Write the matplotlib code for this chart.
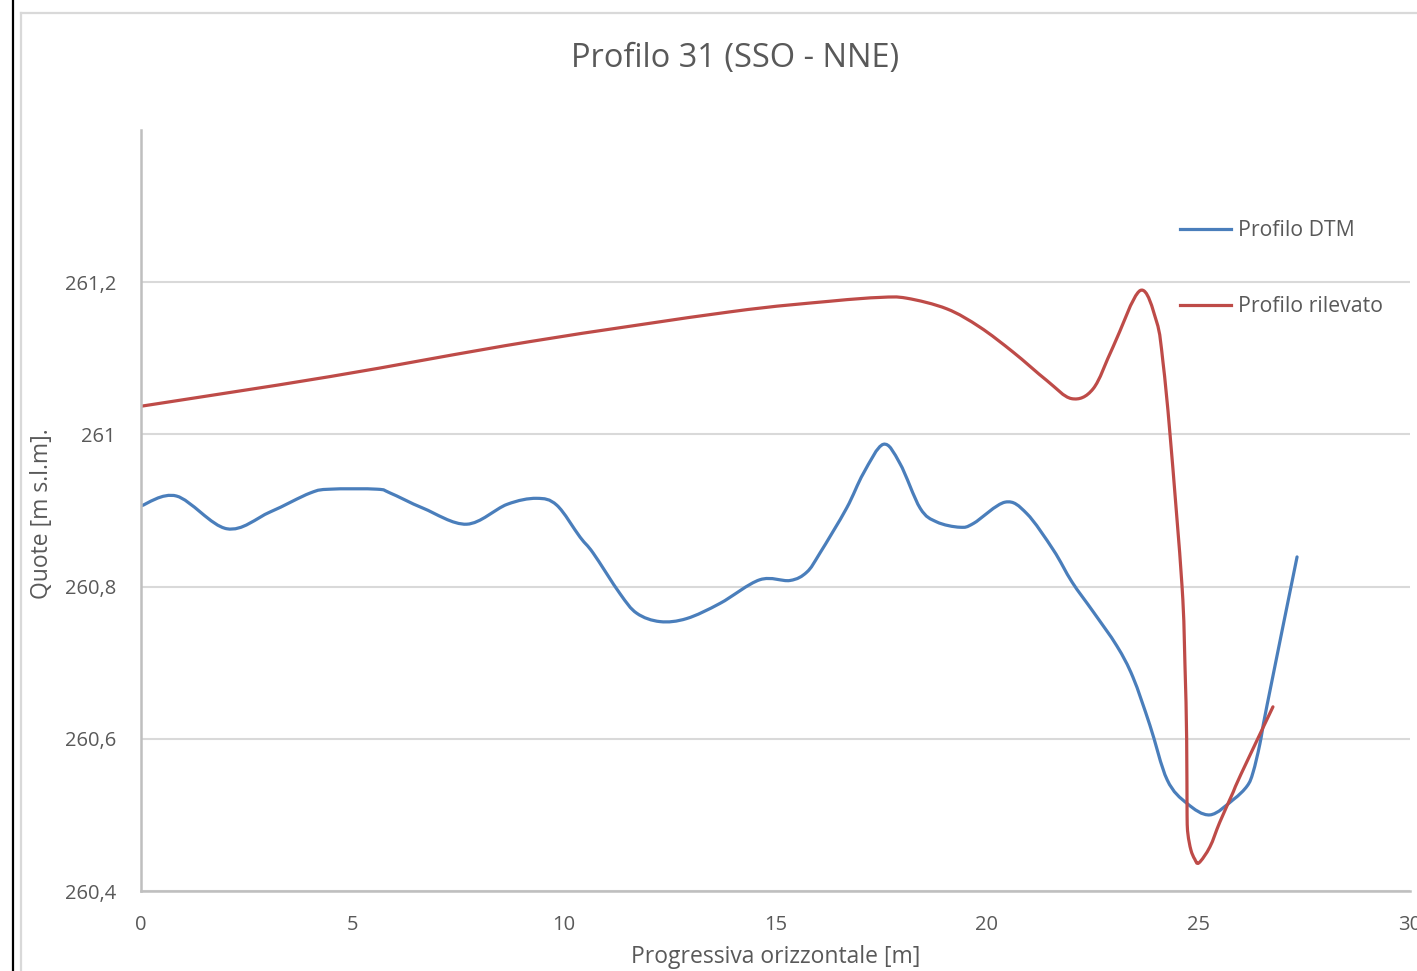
import matplotlib
matplotlib.use("Agg")
import numpy as np
import matplotlib.pyplot as plt
from matplotlib.lines import Line2D
from matplotlib.path import Path
from matplotlib.patches import PathPatch

plt.rcParams['font.family'] = ['Open Sans', 'DejaVu Sans']

# Profilo DTM
dtm_x = [0.0, 0.84, 2.03, 3.05, 4.0, 4.47, 5.58, 5.89, 6.67, 7.70, 8.65, 9.35,
         9.83, 10.38, 10.69, 11.32, 11.72, 12.27, 12.90, 13.69, 14.63, 15.34,
         15.74, 16.05, 16.68, 17.08, 17.55, 17.94, 18.42, 18.81, 19.36, 19.68,
         20.43, 20.94, 21.57, 22.01, 22.51, 23.07, 23.45, 23.85, 24.26, 24.73,
         25.27, 25.82, 26.15, 26.29, 26.45, 26.62, 27.33]
dtm_y = [260.906, 260.919, 260.876, 260.898, 260.923, 260.928, 260.928, 260.923,
         260.903, 260.882, 260.908, 260.916, 260.907, 260.865, 260.844, 260.791,
         260.765, 260.754, 260.758, 260.778, 260.809, 260.808, 260.819, 260.844,
         260.903, 260.949, 260.987, 260.962, 260.903, 260.885, 260.878, 260.883,
         260.911, 260.896, 260.848, 260.806, 260.767, 260.722, 260.681, 260.618,
         260.546, 260.515, 260.500, 260.520, 260.538, 260.556, 260.593, 260.644,
         260.839]

# Profilo rilevato
ril_x = [0.0, 4.47, 9.2, 13.92, 16.29, 17.47, 18.10, 19.05, 19.83, 20.62, 21.41,
         22.0, 22.51, 22.98, 23.62, 24.01, 24.16, 24.33, 24.61, 24.68, 24.72,
         24.73, 24.75, 24.82, 24.91, 25.01, 25.27, 25.5, 25.82, 26.0, 26.76]
ril_y = [261.037, 261.076, 261.122, 261.161, 261.175, 261.180, 261.179, 261.165,
         261.141, 261.108, 261.071, 261.047, 261.060, 261.115, 261.189, 261.148,
         261.095, 260.998, 260.801, 260.697, 260.600, 260.50, 260.475, 260.454,
         260.442, 260.437, 260.458, 260.490, 260.530, 260.553, 260.642]

x_ticks = [0, 5, 10, 15, 20, 25, 30]
y_ticks = [260.4, 260.6, 260.8, 261.0, 261.2]
y_tick_labels = ['260,4', '260,6', '260,8', '261', '261,2']


def smooth_line(ax, xs, ys, **kw):
    # smoothed line as in spreadsheet charts: bezier segments through the points
    p = np.column_stack([xs, ys])
    n = len(p)
    verts = [p[0]]
    codes = [Path.MOVETO]
    for i in range(n - 1):
        p0 = p[i - 1] if i > 0 else p[i]
        p3 = p[i + 2] if i + 2 < n else p[i + 1]
        verts += [p[i] + (p[i + 1] - p0) / 6, p[i + 1] - (p3 - p[i]) / 6, p[i + 1]]
        codes += [Path.CURVE4] * 3
    ax.add_patch(PathPatch(Path(verts, codes), fill=False, capstyle='round',
                           joinstyle='round', **kw))


W, H = 1417, 971
fig = plt.figure(figsize=(W / 100, H / 100), dpi=100)
ax = fig.add_axes([141 / W, 1 - 891 / H, (1410 - 141) / W, (891 - 130) / H])

text_col = '#595959'
blue = '#4a7ebb'
red = '#be4b48'

smooth_line(ax, dtm_x, dtm_y, edgecolor=blue, lw=2.3)
smooth_line(ax, ril_x, ril_y, edgecolor=red, lw=2.3)

ax.set_xlim(0, 30)
ax.set_ylim(260.4, 261.4)
ax.set_xticks(x_ticks)
ax.set_xticklabels([str(t) for t in x_ticks])
ax.set_yticks(y_ticks)
ax.set_yticklabels(y_tick_labels)
ax.tick_params(length=0, labelsize=14.5, labelcolor=text_col)
ax.tick_params(axis='y', pad=18)
ax.tick_params(axis='x', pad=17)
ax.grid(axis='y', color='#d9d9d9', lw=1.5)
ax.set_axisbelow(True)
for s in ['top', 'right']:
    ax.spines[s].set_visible(False)
for s in ['left', 'bottom']:
    ax.spines[s].set_color('#bfbfbf')
    ax.spines[s].set_linewidth(1.8)

fig.text(735 / W, 1 - 58 / H, 'Profilo 31 (SSO - NNE)', ha='center', va='center',
         fontsize=23.5, color=text_col)
fig.text(775.5 / W, 1 - 957 / H, 'Progressiva orizzontale [m]', ha='center', va='center',
         fontsize=16.5, color=text_col)
fig.text(42 / W, 1 - 514 / H, 'Quote [m s.l.m].', ha='center', va='center',
         rotation=90, fontsize=16.5, color=text_col)

handles = [Line2D([], [], color=blue, lw=2.3), Line2D([], [], color=red, lw=2.3)]
ax.legend(handles, ['Profilo DTM', 'Profilo rilevato'], loc='upper left',
          bbox_to_anchor=(1180 / W, 1 - 220 / H),
          bbox_transform=fig.transFigure, frameon=False, fontsize=15.3,
          handlelength=2.4, handletextpad=0.35, labelspacing=2.6,
          borderpad=0, borderaxespad=0, labelcolor=text_col)

# chart frame of the screenshot
fig.add_artist(Line2D([12.5 / W, 12.5 / W], [0, 1], color='black', lw=1.6))
fig.add_artist(Line2D([21 / W, 1], [1 - 13 / H, 1 - 13 / H], color='#d9d9d9', lw=1.6))
fig.add_artist(Line2D([21 / W, 21 / W], [0, 1 - 13 / H], color='#d9d9d9', lw=1.6))

fig.savefig('out.png', dpi=100)
